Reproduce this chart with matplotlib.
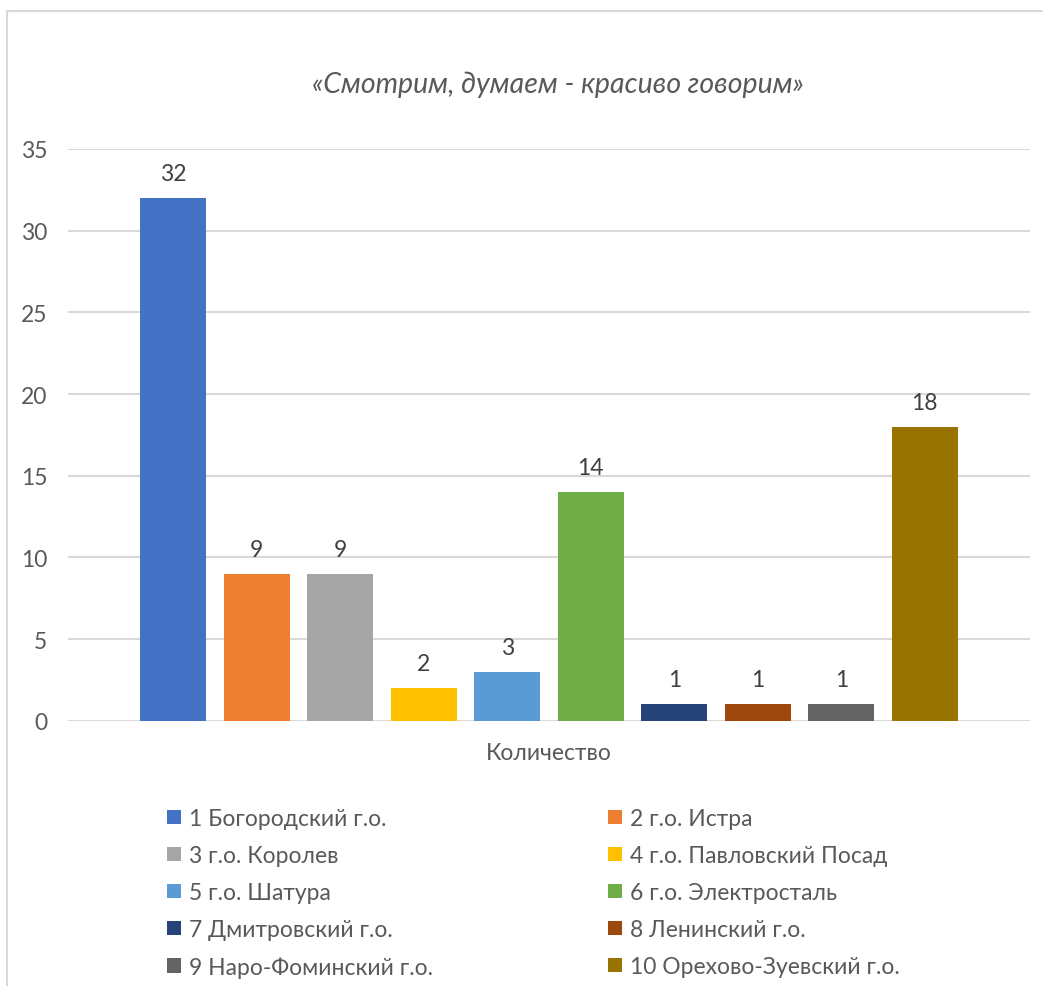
import matplotlib.pyplot as plt
from matplotlib.patches import Rectangle, Patch

plt.rcParams['font.family'] = ['Lato', 'DejaVu Sans']

# данные
districts = ['1 Богородский г.о.', '2 г.о. Истра', '3 г.о. Королев',
             '4 г.о. Павловский Посад', '5 г.о. Шатура', '6 г.о. Электросталь',
             '7 Дмитровский г.о.', '8 Ленинский г.о.', '9 Наро-Фоминский г.о.',
             '10 Орехово-Зуевский г.о.']
counts = [32, 9, 9, 2, 3, 14, 1, 1, 1, 18]
colors = ['#4472C4', '#ED7D31', '#A5A5A5', '#FFC000', '#5B9BD5',
          '#70AD47', '#264478', '#9E480E', '#636363', '#997300']
yticks = [0, 5, 10, 15, 20, 25, 30, 35]
title = '«Смотрим, думаем - красиво говорим»'
category = 'Количество'

txt = '#595959'
fs = 16.5

fig = plt.figure(figsize=(10.43, 9.87), dpi=100)
W, H = 1043, 987

# рамка диаграммы
fig.patches.append(Rectangle((7 / W, -0.1), 1.2, 1.1 - 12 / H, transform=fig.transFigure,
                             fill=False, edgecolor='#d9d9d9', linewidth=1.5))

ax = fig.add_axes([68 / W, 1 - 721.7 / H, (1030 - 68) / W, (721.7 - 150) / H])
pos = list(range(len(counts)))
bars = ax.bar(pos, counts, width=0.79, color=colors, zorder=3)
ax.bar_label(bars, labels=[str(c) for c in counts], padding=10, fontsize=fs, color='#404040')

ax.set_xlim(-1.26, len(counts) - 1 + 1.26)
ax.set_ylim(0, 35)
ax.set_yticks(yticks)
ax.set_xticks([])
ax.yaxis.grid(True, color='#d9d9d9', linewidth=1.5, zorder=0)
ax.tick_params(axis='y', length=0, pad=15, labelsize=fs, labelcolor=txt)
for s in ax.spines.values():
    s.set_visible(False)
ax.set_xlabel(category, fontsize=fs, color=txt, labelpad=15)

fig.text(558 / W, 1 - 85 / H, title, ha='center', va='center', fontsize=20.5,
         style='italic', color=txt)

# легенда: два столбца
handles = [Patch(facecolor=c) for c in colors]
for col, x0 in enumerate([167, 608]):
    idx = list(range(col, len(districts), 2))
    fig.legend([handles[i] for i in idx], [districts[i] for i in idx],
               loc='upper left', bbox_to_anchor=(x0 / W, 1 - 809 / H),
               frameon=False, fontsize=fs, labelcolor=txt,
               handlelength=0.6, handleheight=0.6, handletextpad=0.35,
               labelspacing=0.7, borderaxespad=0, borderpad=0)

fig.savefig('out.png', dpi=100)
